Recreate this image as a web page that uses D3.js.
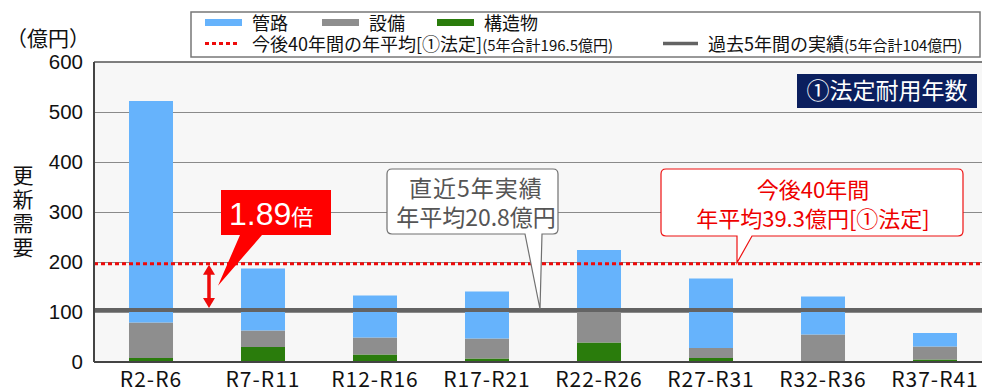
<!DOCTYPE html>
<html>
<head>
<meta charset="utf-8">
<script src="https://cdn.jsdelivr.net/npm/d3@7"></script>
<style>
  body { margin: 0; background: #fff; }
  svg { display: block; }
  .jp { font-family: "Noto Sans CJK JP", "Noto Sans", sans-serif; }
  .num { font-family: "Liberation Sans", Arial, sans-serif; }
</style>
</head>
<body>
<div id="chart"></div>
<script>
// periods (5-year blocks)
var categories = ["R2-R6", "R7-R11", "R12-R16", "R17-R21", "R22-R26", "R27-R31", "R32-R36", "R37-R41"];
// renewal demand (億円) per 5 years
var kanro   = [443, 124, 84, 94, 120, 139, 76, 27];   // 管路
var setsubi = [71, 33, 34, 40, 65, 20, 54, 26];      // 設備
var kouzou  = [8, 30, 15, 7, 39, 8, 1, 5];           // 構造物
var yTicks = [0, 100, 200, 300, 400, 500, 600];
var futureAvg = 196.5;  // 今後40年間の年平均 (5年合計)
var pastActual = 104;   // 過去5年間の実績 (5年合計)

var seriesNames = ["構造物", "設備", "管路"];
var colors = { "管路": "#66b3fc", "設備": "#8e8e8e", "構造物": "#2a7c0c" };

var W = 982, H = 391;
var margin = { top: 62, left: 94, bottom: 29 };

var svg = d3.select("#chart").append("svg").attr("width", W).attr("height", H);

var x = d3.scaleBand().domain(categories).range([95, 991]).paddingInner(0.607).paddingOuter(0.3035);
var y = d3.scaleLinear().domain([0, 600]).range([H - margin.bottom, margin.top]);

// plot background
svg.append("rect").attr("x", margin.left).attr("y", y(600))
    .attr("width", W - margin.left).attr("height", y(0) - y(600)).attr("fill", "#f7f7f7");

// gridlines
svg.append("g").attr("transform", "translate(" + margin.left + ",0)")
    .call(d3.axisLeft(y).tickValues(yTicks.slice(1, 6)).tickSize(-(W - margin.left)).tickFormat(""))
    .call(function(g) {
        g.select(".domain").remove();
        g.selectAll("line").attr("stroke", "#8a8a8a").attr("stroke-width", 1);
    });

// stacked bars
var table = categories.map(function(c, i) {
    return { cat: c, "管路": kanro[i], "設備": setsubi[i], "構造物": kouzou[i] };
});
var stack = d3.stack().keys(seriesNames)(table);
svg.append("g").selectAll("g").data(stack).enter().append("g")
    .attr("fill", function(d) { return colors[d.key]; })
    .selectAll("rect").data(function(d) { return d; }).enter().append("rect")
    .attr("x", function(d) { return x(d.data.cat); })
    .attr("y", function(d) { return y(d[1]); })
    .attr("width", x.bandwidth())
    .attr("height", function(d) { return y(d[0]) - y(d[1]); });

// reference lines
svg.append("line").attr("x1", margin.left).attr("x2", W).attr("y1", y(pastActual)).attr("y2", y(pastActual))
    .attr("stroke", "#636363").attr("stroke-width", 4);
svg.append("line").attr("x1", margin.left).attr("x2", W).attr("y1", y(futureAvg)).attr("y2", y(futureAvg))
    .attr("stroke", "#ee0a0a").attr("stroke-width", 3).attr("stroke-dasharray", "4,3");

// frame
svg.append("line").attr("x1", margin.left).attr("x2", W).attr("y1", y(600)).attr("y2", y(600))
    .attr("stroke", "#555").attr("stroke-width", 1.5);
svg.append("line").attr("x1", margin.left).attr("x2", W).attr("y1", y(0)).attr("y2", y(0))
    .attr("stroke", "#444").attr("stroke-width", 2);
svg.append("line").attr("x1", margin.left).attr("x2", margin.left).attr("y1", y(600)).attr("y2", y(0))
    .attr("stroke", "#444").attr("stroke-width", 2);

// y axis labels
svg.append("g").attr("transform", "translate(" + margin.left + ",0)")
    .call(d3.axisLeft(y).tickValues(yTicks).tickSize(0).tickPadding(11))
    .call(function(g) {
        g.select(".domain").remove();
        g.selectAll("text").attr("class", "num").attr("font-size", 20.5).attr("fill", "#111");
    });

// x axis labels
svg.append("g").selectAll("text").data(categories).enter().append("text")
    .attr("class", "jp")
    .attr("x", function(d) { return x(d) + x.bandwidth() / 2; })
    .attr("y", 387)
    .attr("text-anchor", "middle")
    .attr("font-size", 21).attr("letter-spacing", 1).attr("fill", "#111")
    .text(function(d) { return d; });

// unit + y title
svg.append("text").attr("class", "jp").attr("x", 6).attr("y", 46).attr("font-size", 21).attr("fill", "#111").text("（億円）");
svg.append("text").attr("class", "jp").attr("x", 23).attr("y", 165)
    .attr("font-size", 21).attr("letter-spacing", 3).attr("fill", "#111")
    .style("writing-mode", "vertical-rl")
    .text("更新需要");

// legend
var lg = svg.append("g");
lg.append("rect").attr("x", 191).attr("y", 12).attr("width", 789).attr("height", 45)
    .attr("fill", "#fff").attr("stroke", "#777").attr("stroke-width", 1.5);
var row1 = [{ k: "管路", x: 205 }, { k: "設備", x: 322 }, { k: "構造物", x: 437 }];
row1.forEach(function(r) {
    lg.append("rect").attr("x", r.x).attr("y", 19).attr("width", 37).attr("height", 7).attr("fill", colors[r.k]);
    lg.append("text").attr("class", "jp").attr("x", r.x + 47).attr("y", 30).attr("font-size", 18).attr("fill", "#111").text(r.k);
});
lg.append("line").attr("x1", 205).attr("x2", 240).attr("y1", 43.5).attr("y2", 43.5)
    .attr("stroke", "#ee0a0a").attr("stroke-width", 3).attr("stroke-dasharray", "4,3");
var t1 = lg.append("text").attr("class", "jp").attr("x", 252).attr("y", 51).attr("font-size", 18).attr("fill", "#111");
t1.append("tspan").text("今後40年間の年平均[①法定]");
t1.append("tspan").attr("font-size", 15).text("(5年合計196.5億円)");
lg.append("line").attr("x1", 663).attr("x2", 698).attr("y1", 43.5).attr("y2", 43.5)
    .attr("stroke", "#636363").attr("stroke-width", 3.5);
var t2 = lg.append("text").attr("class", "jp").attr("x", 708).attr("y", 51).attr("font-size", 18).attr("fill", "#111");
t2.append("tspan").text("過去5年間の実績");
t2.append("tspan").attr("font-size", 15).text("(5年合計104億円)");

// scenario label
svg.append("rect").attr("x", 797).attr("y", 74).attr("width", 180).attr("height", 34).attr("fill", "#0b1f5e");
svg.append("text").attr("class", "jp").attr("x", 887).attr("y", 99).attr("text-anchor", "middle")
    .attr("font-size", 23).attr("fill", "#fff").text("①法定耐用年数");

// double arrow between lines
var ax = 209, ya = y(futureAvg) + 1, yb = y(pastActual) - 2;
svg.append("line").attr("x1", ax).attr("x2", ax).attr("y1", ya + 8).attr("y2", yb - 8)
    .attr("stroke", "#ee0a0a").attr("stroke-width", 3.5);
svg.append("path").attr("d", "M" + ax + "," + ya + "l-6,10h12z").attr("fill", "#ee0a0a");
svg.append("path").attr("d", "M" + ax + "," + yb + "l-6,-10h12z").attr("fill", "#ee0a0a");

// 1.89倍 callout
svg.append("path").attr("d", "M221,190H331V235H262L218," + (y(futureAvg) + 22) + "L240,235H221Z").attr("fill", "#f00");
var tr = svg.append("text").attr("x", 229).attr("y", 225).attr("fill", "#fff");
tr.append("tspan").attr("class", "num").attr("font-size", 32).text("1.89");
tr.append("tspan").attr("class", "jp").attr("font-size", 22).text("倍");

// speech bubble with a pointer on its bottom edge
function bubble(x0, y0, x1, y1, bx0, bx1, tx, ty) {
    var r = 5;
    return "M" + (x0 + r) + "," + y0 + "H" + (x1 - r) + "Q" + x1 + "," + y0 + " " + x1 + "," + (y0 + r) +
        "V" + (y1 - r) + "Q" + x1 + "," + y1 + " " + (x1 - r) + "," + y1 +
        "H" + bx1 + "L" + tx + "," + ty + "L" + bx0 + "," + y1 +
        "H" + (x0 + r) + "Q" + x0 + "," + y1 + " " + x0 + "," + (y1 - r) +
        "V" + (y0 + r) + "Q" + x0 + "," + y0 + " " + (x0 + r) + "," + y0 + "Z";
}

// past actual callout
svg.append("path").attr("d", bubble(387, 169, 558, 234, 525, 542, 540, y(pastActual) - 1))
    .attr("fill", "#fff").attr("stroke", "#707070").attr("stroke-width", 1.2);
svg.append("text").attr("class", "jp").attr("x", 476).attr("y", 197).attr("text-anchor", "middle")
    .attr("font-size", 23).attr("letter-spacing", 1).attr("fill", "#555").text("直近5年実績");
svg.append("text").attr("class", "jp").attr("x", 476).attr("y", 226).attr("text-anchor", "middle")
    .attr("font-size", 23).attr("fill", "#555").text("年平均20.8億円");

// future average callout
svg.append("path").attr("d", bubble(661, 169, 963, 236, 737, 752, 737, y(futureAvg) - 1))
    .attr("fill", "#fff").attr("stroke", "#ee1111").attr("stroke-width", 1.2);
svg.append("text").attr("class", "jp").attr("x", 813).attr("y", 198).attr("text-anchor", "middle")
    .attr("font-size", 22).attr("fill", "#ee0000").text("今後40年間");
svg.append("text").attr("class", "jp").attr("x", 813).attr("y", 227).attr("text-anchor", "middle")
    .attr("font-size", 22).attr("fill", "#ee0000").text("年平均39.3億円[①法定]");
</script>
</body>
</html>
